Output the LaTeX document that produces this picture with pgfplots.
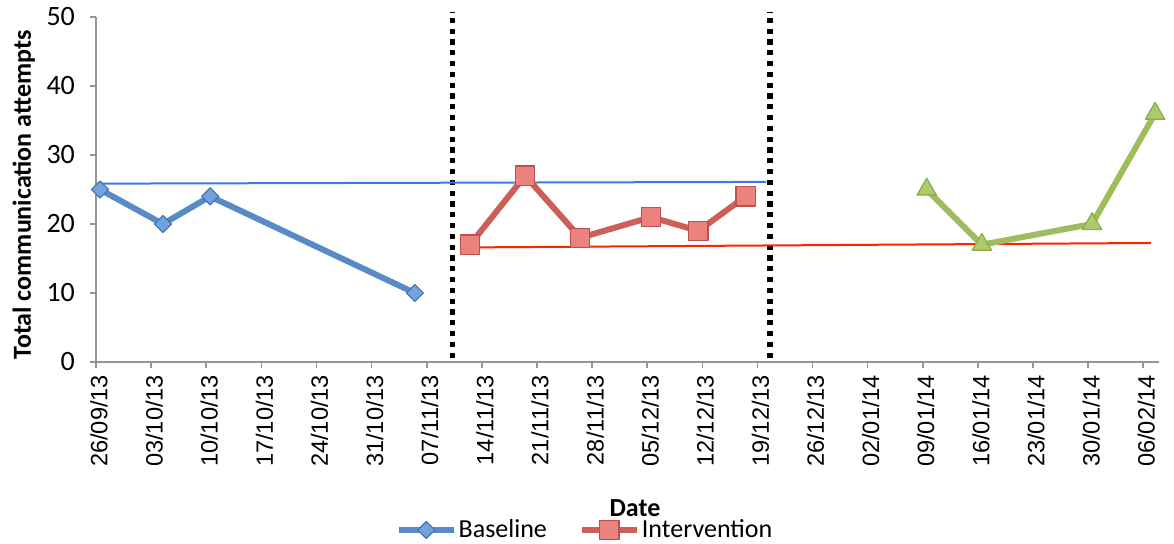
\documentclass[border=0pt]{standalone}
\usepackage{pgfplots}
\pgfplotsset{compat=1.18}
\usepackage{fontspec}
\setmainfont{Carlito}
\newfontfamily\tickfont{Liberation Sans}
\definecolor{axisgray}{RGB}{150,150,150}
\definecolor{bline}{RGB}{88,138,198}
\definecolor{bfill}{RGB}{115,163,222}
\definecolor{bdraw}{RGB}{70,118,178}
\definecolor{rline}{RGB}{205,95,90}
\definecolor{rfill}{RGB}{236,130,126}
\definecolor{rdraw}{RGB}{190,80,76}
\definecolor{gline}{RGB}{158,190,93}
\definecolor{gfill}{RGB}{172,204,106}
\definecolor{gdraw}{RGB}{140,172,75}
\definecolor{btrend}{RGB}{60,120,230}
\definecolor{rtrend}{RGB}{255,35,0}
\begin{document}
\begin{tikzpicture}
\begin{axis}[
  scale only axis, width=531.5pt, height=172.5pt,
  xmin=0, xmax=135, ymin=0, ymax=50,
  axis x line=bottom, axis y line=left,
  axis line style={-, draw=axisgray, line width=0.8pt},
  clip=false,
  xtick={0,7,...,133},
  xticklabels={26/09/13,03/10/13,10/10/13,17/10/13,24/10/13,31/10/13,07/11/13,14/11/13,21/11/13,28/11/13,05/12/13,12/12/13,19/12/13,26/12/13,02/01/14,09/01/14,16/01/14,23/01/14,30/01/14,06/02/14},
  xticklabel style={rotate=90, anchor=east, yshift=-1.5pt, font=\tickfont\fontsize{11.8}{13}\selectfont},
  ytick={0,10,20,30,40,50},
  yticklabel style={xshift=-4pt, font=\fontsize{14}{16}\selectfont},
  /pgf/number format/assume math mode=true,
  tick align=outside, major tick length=3pt,
  tick style={draw=axisgray, line width=0.8pt},
  xlabel={Date}, ylabel={Total communication attempts},
  xlabel style={font=\bfseries\fontsize{13}{15}\selectfont, at={(axis description cs:0.507,-0.423)}, anchor=center},
  ylabel style={font=\bfseries\fontsize{13}{15}\selectfont, at={(axis description cs:-0.068,0.484)}, anchor=center},
  legend style={draw=none, fill=none, legend columns=2, at={(axis description cs:0.46,-0.487)}, anchor=center,
    font=\fontsize{13}{15}\selectfont, /tikz/every even column/.append style={column sep=15pt},
    inner sep=0pt, nodes={inner sep=1pt}},
  legend image code/.code={\draw[mark repeat=2,mark phase=2,#1] plot coordinates {(0pt,0pt)(13.75pt,0pt)(27.5pt,0pt)};},
]
% phase dividers
\addplot[black, line width=2.6pt, dash pattern=on 2.6pt off 2.8pt, forget plot] coordinates {(45.3,0.6)(45.3,50.7)};
\addplot[black, line width=2.6pt, dash pattern=on 2.6pt off 2.8pt, forget plot] coordinates {(85.6,0.6)(85.6,50.7)};
% trend lines
\addplot[btrend, line width=1pt, forget plot] coordinates {(0.4,25.85)(85.1,26.1)};
\addplot[rtrend, line width=1pt, forget plot] coordinates {(46.6,16.6)(134,17.25)};
% data
\addplot[bline, line width=3pt, line join=round, mark=square*, mark size=3pt,
  mark options={rotate=45, fill=bfill, draw=bdraw, line width=0.6pt}]
  coordinates {(0.5,25)(8.5,20)(14.5,24)(40.5,10)};
\addlegendentry{Baseline}
\addplot[rline, line width=3pt, line join=round, mark=square*, mark size=4.8pt,
  mark options={fill=rfill, draw=rdraw, line width=0.6pt}]
  coordinates {(47.5,17)(54.5,27)(61.5,18)(70.5,21)(76.5,19)(82.5,24)};
\addlegendentry{Intervention}
\addplot[gline, line width=3pt, line join=round, mark=triangle*, mark size=5.6pt,
  mark options={fill=gfill, draw=gdraw, line width=0.6pt}, forget plot]
  coordinates {(105.5,25)(112.5,17)(126.5,20)(134.5,36)};
\end{axis}
\pgfresetboundingbox
\path ([shift={(-48pt,-91pt)}]current axis.south west) rectangle ([shift={(539pt,181pt)}]current axis.south west);
\end{tikzpicture}
\end{document}
